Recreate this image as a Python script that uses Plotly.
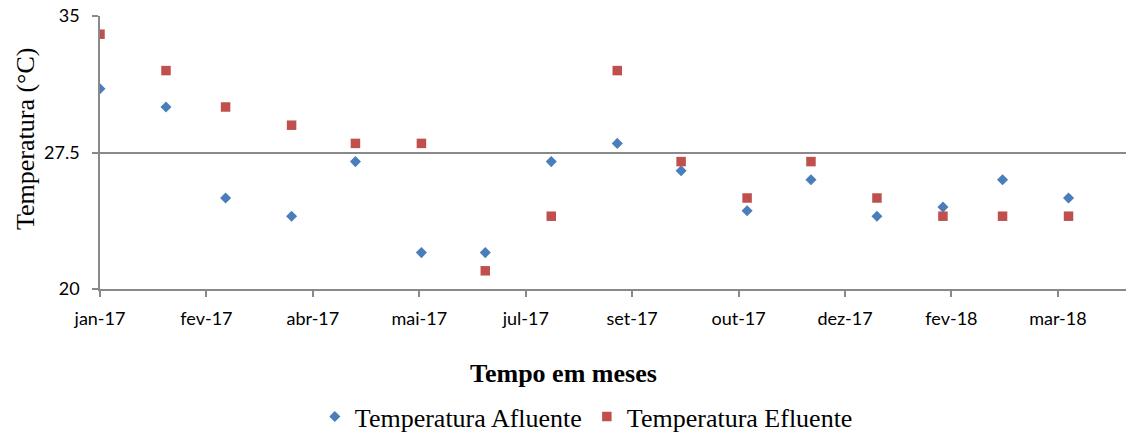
import plotly.graph_objects as go

# Monthly sampling dates (first day of each month)
dates = [
    "2017-01-01", "2017-02-01", "2017-03-01", "2017-04-01", "2017-05-01",
    "2017-06-01", "2017-07-01", "2017-08-01", "2017-09-01", "2017-10-01",
    "2017-11-01", "2017-12-01", "2018-01-01", "2018-02-01", "2018-03-01",
    "2018-04-01",
]

# Temperatures (°C)
temp_afluente = [31.0, 30.0, 25.0, 24.0, 27.0, 22.0, 22.0, 27.0, 28.0, 26.5,
                 24.3, 26.0, 24.0, 24.5, 26.0, 25.0]
temp_efluente = [34.0, 32.0, 30.0, 29.0, 28.0, 28.0, 21.0, 24.0, 32.0, 27.0,
                 25.0, 27.0, 25.0, 24.0, 24.0, 24.0]

# Date-axis ticks every 50 days
tick_dates = ["2017-01-01", "2017-02-20", "2017-04-11", "2017-05-31",
              "2017-07-20", "2017-09-08", "2017-10-28", "2017-12-17",
              "2018-02-05", "2018-03-27"]
tick_labels = ["jan-17", "fev-17", "abr-17", "mai-17", "jul-17", "set-17",
               "out-17", "dez-17", "fev-18", "mar-18"]

y_ticks = [20, 27.5, 35]
y_tick_labels = ["20", "27.5", "35"]

AXIS_GRAY = "#898989"
SERIF = "Liberation Serif, Times New Roman, serif"
SANS = "Lato, Liberation Sans, sans-serif"
BLUE = "#4A7EBB"
RED = "#C0504D"

fig = go.Figure()
fig.add_trace(go.Scatter(
    x=dates, y=temp_afluente, mode="markers", name="Temperatura Afluente",
    marker=dict(symbol="diamond", size=8.5, color=BLUE, line=dict(width=0)),
))
fig.add_trace(go.Scatter(
    x=dates, y=temp_efluente, mode="markers", name="Temperatura Efluente",
    marker=dict(symbol="square", size=9.5, color=RED, line=dict(width=0)),
))

fig.update_layout(
    width=1126, height=433,
    margin=dict(l=100, r=0, t=16, b=144, autoexpand=False),
    paper_bgcolor="white", plot_bgcolor="white",
    showlegend=True,
    legend=dict(
        orientation="h", x=0.474, xanchor="center",
        yref="container", y=0.038, yanchor="middle",
        font=dict(family=SERIF, size=26, color="black"),
        itemsizing="trace", itemwidth=30, tracegroupgap=0,
        bgcolor="rgba(0,0,0,0)",
    ),
    xaxis=dict(
        type="date", range=["2017-01-01", "2018-04-28"],
        tickmode="array", tickvals=tick_dates, ticktext=tick_labels,
        ticks="outside", ticklen=6, tickcolor=AXIS_GRAY, tickwidth=1.5,
        showline=True, linecolor=AXIS_GRAY, linewidth=1.5,
        showgrid=False, zeroline=False, ticklabelstandoff=7,
        tickfont=dict(family=SANS, size=18, color="black"),
    ),
    yaxis=dict(
        range=[20, 35], tickmode="array", tickvals=y_ticks,
        ticktext=y_tick_labels,
        ticks="outside", ticklen=6, tickcolor=AXIS_GRAY, tickwidth=1.5,
        showline=True, linecolor=AXIS_GRAY, linewidth=1.5,
        showgrid=True, gridcolor=AXIS_GRAY, gridwidth=1.5,
        zeroline=False, ticklabelstandoff=9,
        tickfont=dict(family=SANS, size=18, color="black"),
    ),
    annotations=[
        dict(text="<b>Tempo em meses</b>", xref="paper", yref="paper",
             x=0.452, y=-0.31, xanchor="center", yanchor="middle",
             showarrow=False,
             font=dict(family=SERIF, size=26, color="black")),
        dict(text="Temperatura (°C)", xref="paper", yref="paper",
             x=-0.0731, y=0.553, xanchor="center", yanchor="middle",
             textangle=-90, showarrow=False,
             font=dict(family=SERIF, size=26, color="black")),
    ],
)

fig.write_html("out.html")
